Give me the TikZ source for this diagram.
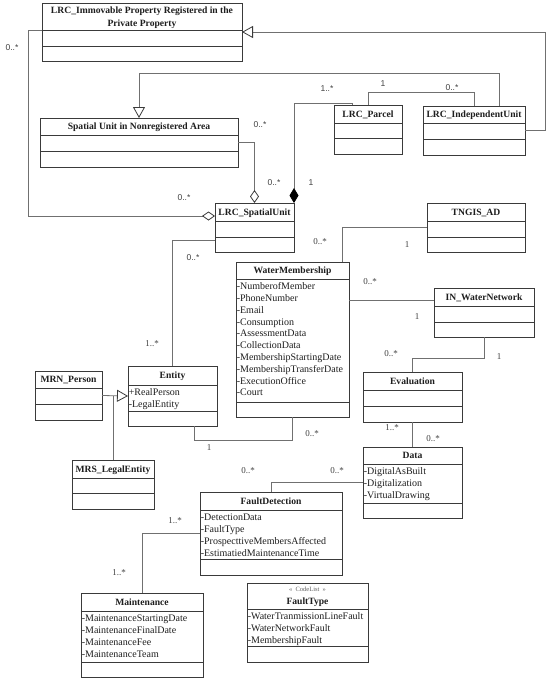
\documentclass[tikz,border=0pt]{standalone}
\usepackage{fontspec}
\setmainfont{Liberation Serif}
\newfontfamily\lblsans{Liberation Sans}
\usetikzlibrary{arrows.meta,fit}
\definecolor{boxc}{HTML}{3A3A3A}
\definecolor{linec}{HTML}{707070}
\definecolor{txtc}{HTML}{1E1E1E}
\tikzset{
 classbox/.style={draw=boxc, line width=0.9pt, fill=white, inner sep=0pt, outer sep=0pt},
 divider/.style={draw=boxc, line width=0.9pt},
 ctitle/.style={font=\fontsize{9.6}{12}\selectfont\bfseries, text=txtc, inner sep=0pt, anchor=base},
 stereo/.style={font=\fontsize{6.5}{8}\selectfont, text=txtc!70, inner sep=0pt, anchor=base},
 attrs/.style={font=\fontsize{10}{11.8}\selectfont, text=txtc, inner sep=0pt, anchor=north west, align=left},
 conn/.style={draw=linec, line width=0.8pt},
 gen/.style={conn, -{Triangle[open, length=11pt, width=12pt, fill=white, color=boxc]}},
 agg/.style={conn, {Diamond[open, length=13pt, width=9pt, fill=white, color=boxc]}-},
 comp/.style={conn, {Diamond[length=15pt, width=9pt, fill=black, color=black]}-},
 multS/.style={font=\lblsans\fontsize{8.5}{10}\selectfont, text=txtc!85, inner sep=0pt},
 multR/.style={font=\fontsize{9}{10}\selectfont, text=txtc!85, inner sep=0pt},
}
\newcommand\umlcls[7]{%
  \node[classbox, fit={(#2,#3) (#4,#5)}] (#1) {};
  \draw[divider] (#1.west |- 0,#6) -- (#1.east |- 0,#6);
  \draw[divider] (#1.west |- 0,#7) -- (#1.east |- 0,#7);
}
\begin{document}
\begin{tikzpicture}[x=1pt,y=-1pt]
\useasboundingbox (0,0) rectangle (550,681);
% class boxes
\umlcls{lrcimm}{42}{3}{242}{61}{30}{46}
\umlcls{sunr}{40}{118}{238}{167}{135}{151}
\umlcls{parcel}{334}{105}{402}{154}{123}{138}
\umlcls{indep}{423}{106}{525}{155}{123}{139}
\umlcls{spatial}{215}{203}{294}{252}{221}{237}
\umlcls{tngis}{427}{203}{525}{252}{221}{237}
\umlcls{wm}{236}{262}{349}{417}{279}{402}
\umlcls{inwn}{434}{288}{534}{337}{306}{322}
\umlcls{eval}{363}{372}{462}{422}{390}{406}
\umlcls{data}{363}{447}{462}{518}{464}{503}
\umlcls{entity}{128}{366}{217}{426}{385}{411}
\umlcls{mrn}{35}{371}{102}{420}{388}{404}
\umlcls{mrs}{72}{460}{154}{509}{478}{493}
\umlcls{fd}{200}{492}{342}{575}{510}{559}
\umlcls{maint}{81}{593}{203}{677}{611}{662}
\umlcls{ftype}{247}{583}{368}{662}{609}{646}
% titles
\node[ctitle] (t-lrcimm1) at (142,13.3) {LRC\_Immovable Property Registered in the};
\node[ctitle] (t-lrcimm2) at (142,26) {Private Property};
\node[ctitle] (t-sunr) at (139,129.8) {Spatial Unit in Nonregistered Area};
\node[ctitle] (t-parcel) at (368,117.3) {LRC\_Parcel};
\node[ctitle] (t-indep) at (474,117.8) {LRC\_IndependentUnit};
\node[ctitle] (t-spatial) at (254.5,215.3) {LRC\_SpatialUnit};
\node[ctitle] (t-tngis) at (476,215.3) {TNGIS\_AD};
\node[ctitle] (t-wm) at (292.5,273.8) {WaterMembership};
\node[ctitle] (t-inwn) at (484,300.3) {IN\_WaterNetwork};
\node[ctitle] (t-eval) at (412.5,384.3) {Evaluation};
\node[ctitle] (t-data) at (412.5,458.8) {Data};
\node[ctitle] (t-entity) at (172.5,378.8) {Entity};
\node[ctitle] (t-mrn) at (68.5,382.8) {MRN\_Person};
\node[ctitle] (t-mrs) at (113,472.3) {MRS\_LegalEntity};
\node[ctitle] (t-fd) at (271,504.3) {FaultDetection};
\node[ctitle] (t-maint) at (142,605.3) {Maintenance};
\node[stereo] (s-ftype) at (307.5,591.5) {«\ \ CodeList\ \ »};
\node[ctitle] (t-ftype) at (307.5,604.5) {FaultType};
% attributes
\node[attrs] (a-wm) at (236.6,281.2) {\strut-NumberofMember\\-PhoneNumber\\-Email\\-Consumption\\-AssessmentData\\-CollectionData\\-MembershipStartingDate\\-MembershipTransferDate\\-ExecutionOffice\\-Court};
\node[attrs] (a-entity) at (128.6,387.2) {\strut+RealPerson\\-LegalEntity};
\node[attrs] (a-data) at (363.6,466.2) {\strut-DigitalAsBuilt\\-Digitalization\\-VirtualDrawing};
\node[attrs] (a-fd) at (200.6,512.2) {\strut-DetectionData\\-FaultType\\-ProspecttiveMembersAffected\\-EstimatiedMaintenanceTime};
\node[attrs] (a-maint) at (81.6,613.2) {\strut-MaintenanceStartingDate\\-MaintenanceFinalDate\\-MaintenanceFee\\-MaintenanceTeam};
\node[attrs] (a-ftype) at (247.6,611.2) {\strut-WaterTranmissionLineFault\\-WaterNetworkFault\\-MembershipFault};
% connectors
\draw[gen] (indep.east) -- ++(20,0) |- (lrcimm.east);
\draw[gen] ([xshift=25pt]indep.north) -- ++(0,-33) -| (sunr.north);
\draw[conn] (parcel.north) -- ++(0,-13) -| (indep.north);
\draw[comp] (spatial.north east) -- ++(0,-100) -| ([xshift=-16pt]parcel.north);
\draw[agg] (spatial.north) |- (sunr.east);
\draw[agg] ([yshift=-13pt]spatial.north west) -- ++(-187,0) |- ([yshift=2pt]lrcimm.west);
\draw[conn] ([yshift=-12.5pt]spatial.west) -| (entity.north);
\draw[conn] (tngis.west) -| ([xshift=-7pt]wm.north east);
\draw[conn] ([yshift=12.5pt]inwn.west) -- ([yshift=12.5pt]inwn.west -| wm.east);
\draw[conn] (inwn.south) -- ++(0,21) -| (eval.north);
\draw[conn] (eval.south) -- (data.north);
\draw[conn] ([xshift=21.5pt]entity.south) -- ++(0,14) -| (wm.south);
\draw[gen] (mrn.east) -- (entity.west);
\draw[conn] (mrs.north) -- (mrs.north |- mrn.east);
\draw[conn] (data.west) -| (fd.north);
\draw[conn] (fd.west) -| (maint.north);
% multiplicities
\node[multS] (m1) at (12,48) {0..*};
\node[multS] (m2) at (327,89) {1..*};
\node[multS] (m3) at (383,84) {1};
\node[multS] (m4) at (452,88) {0..*};
\node[multS] (m5) at (260,125) {0..*};
\node[multS] (m6) at (184,198) {0..*};
\node[multS] (m7) at (274,183) {0..*};
\node[multS] (m8) at (311,183) {1};
\node[multS] (m9) at (193,258) {0..*};
\node[multR] (m10) at (320,242) {0..*};
\node[multR] (m11) at (407,245) {1};
\node[multR] (m12) at (152,344) {1..*};
\node[multR] (m13) at (370,282) {0..*};
\node[multR] (m14) at (417,317) {1};
\node[multR] (m15) at (391,354) {0..*};
\node[multR] (m16) at (499,357) {1};
\node[multR] (m17) at (392,428) {1..*};
\node[multR] (m18) at (433,439) {0..*};
\node[multR] (m19) at (209,448) {1};
\node[multR] (m20) at (312,434) {0..*};
\node[multR] (m21) at (248,471) {0..*};
\node[multR] (m22) at (337,471) {0..*};
\node[multR] (m23) at (175,521) {1..*};
\node[multR] (m24) at (119,573) {1..*};
\end{tikzpicture}
\end{document}
